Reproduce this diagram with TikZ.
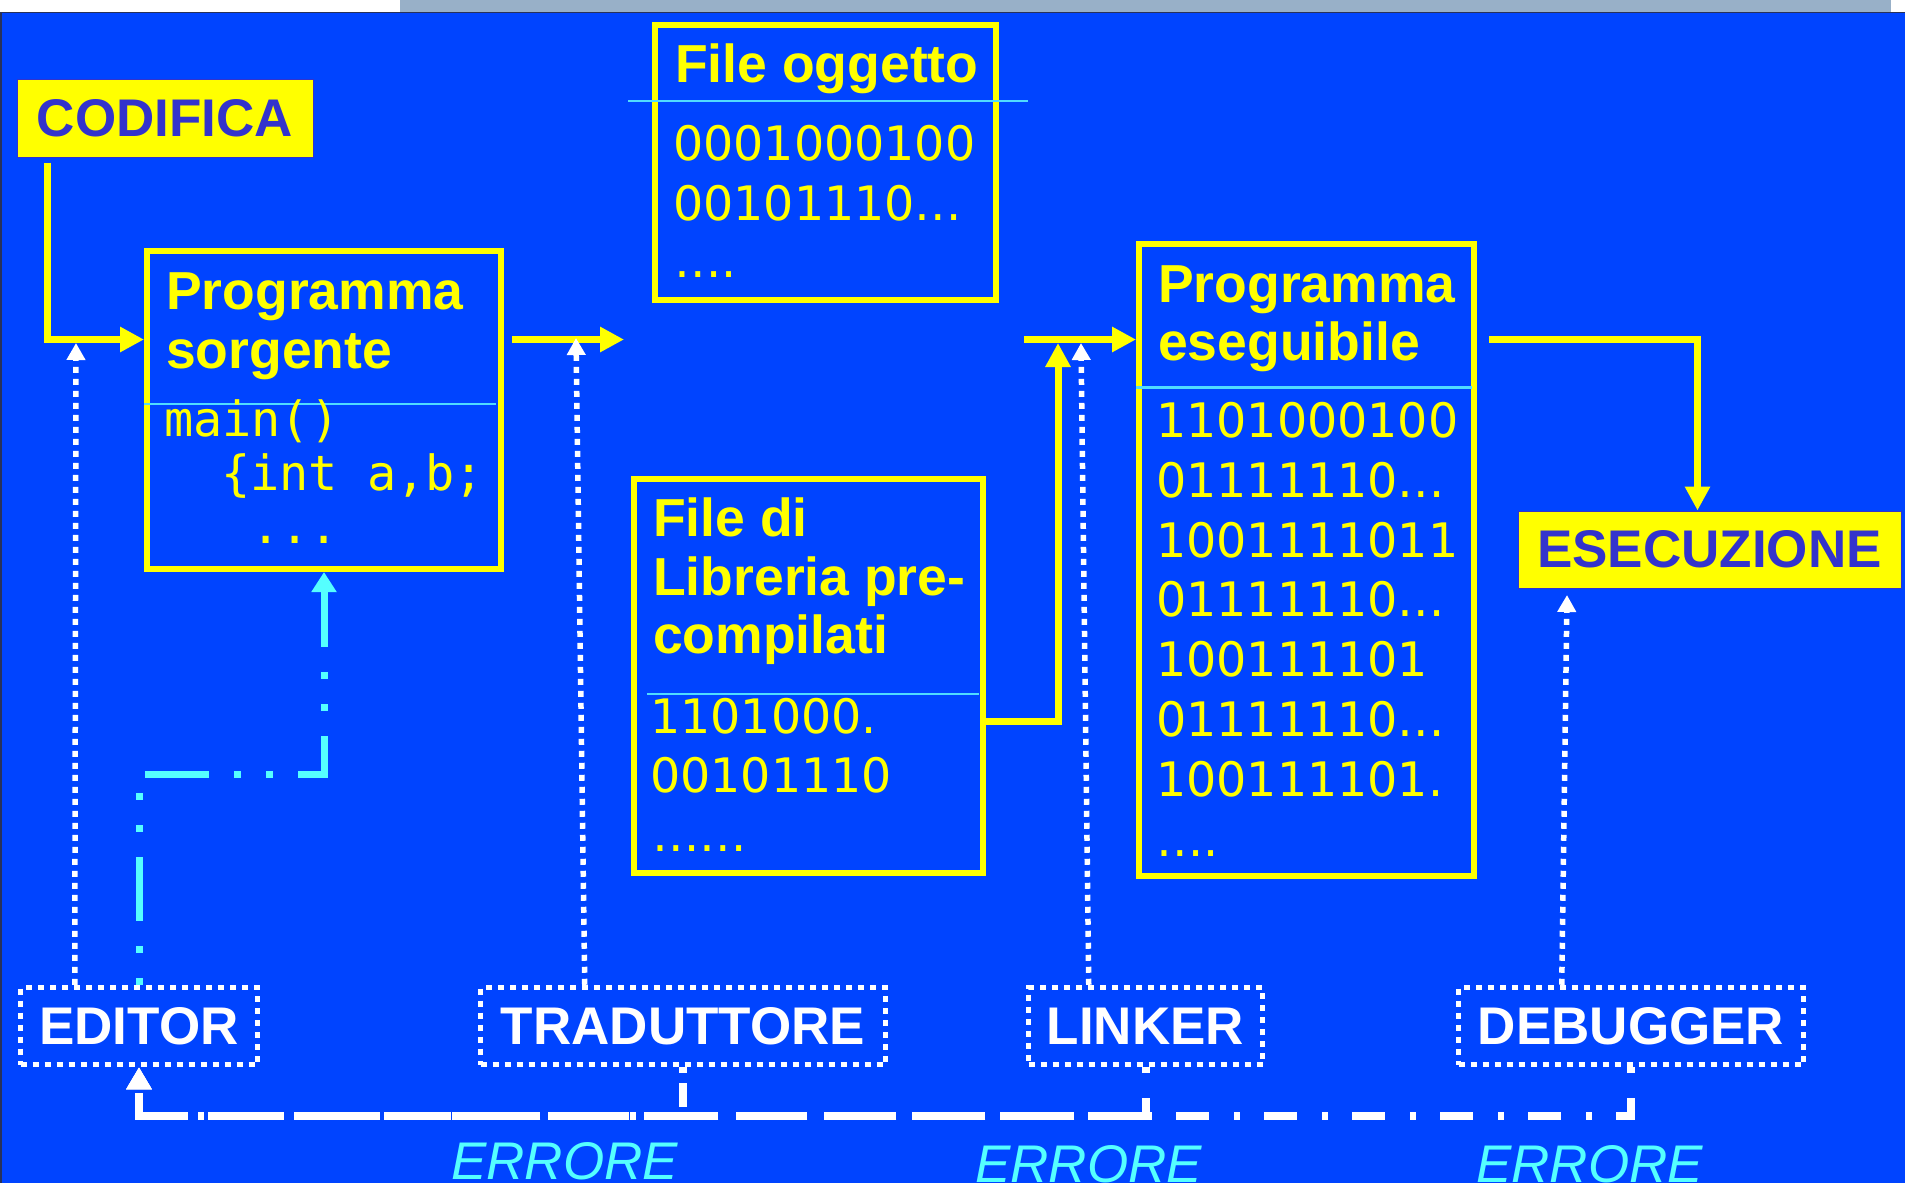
\documentclass[tikz,border=0pt]{standalone}
\usepackage{fontspec}
\setmainfont{Liberation Sans}
\newfontfamily\monof{DejaVu Sans Mono}
\newfontfamily\digf{DejaVu Sans}
\usetikzlibrary{arrows.meta,calc}
\definecolor{bg}{RGB}{0,68,255}
\definecolor{yel}{RGB}{255,255,0}
\definecolor{purp}{RGB}{51,51,204}
\definecolor{cy}{RGB}{85,255,255}
\definecolor{divc}{RGB}{80,220,255}
\definecolor{strip}{RGB}{152,176,200}
\definecolor{edge}{RGB}{40,50,90}
\begin{document}
\begin{tikzpicture}[x=1pt,y=-1pt,
  ybox/.style={draw=yel, line width=6pt, inner sep=0pt},
  fbox/.style={fill=yel, draw=purp, line width=1pt, text=purp, inner sep=0pt,
    font=\bfseries\fontsize{53}{60}\selectfont},
  dotbox/.style={draw=white, line width=5.5pt, dash pattern=on 6pt off 6pt,
    text=white, inner sep=0pt, minimum height=77pt,
    font=\bfseries\fontsize{53}{60}\selectfont},
  ttl/.style={text=yel, inner sep=0pt, anchor=base west,
    font=\bfseries\fontsize{53.5}{60}\selectfont},
  dig/.style={text=yel, inner sep=0pt, anchor=base west,
    font=\digf\fontsize{47.5}{56}\selectfont},
  mono/.style={text=yel, inner sep=0pt, anchor=base west,
    font=\monof\fontsize{48.5}{56}\selectfont},
  err/.style={text=cy, inner sep=0pt, anchor=base west,
    font=\itshape\fontsize{53}{60}\selectfont},
  divl/.style={draw=divc, line width=2.5pt},
  yarr/.style={draw=yel, line width=7pt, -{Triangle[length=24pt,width=24pt]}},
  dotarr/.style={draw=white, line width=5.5pt, dash pattern=on 6pt off 6pt,
    -{Triangle[length=17pt,width=18pt]}},
  cyarr/.style={draw=cy, line width=7pt,
    dash pattern=on 64pt off 25pt on 7pt off 25pt on 7pt off 25pt, dash phase=89pt,
    -{Triangle[length=20pt,width=24pt]}},
  errbase/.style={draw=white, line width=8pt, -{Triangle[length=22pt,width=24pt]}},
  errT/.style={errbase, dash pattern=on 6pt off 10pt on 24pt off 8pt},
  errL/.style={errbase, dash pattern=on 6pt off 25pt on 44pt off 14pt},
  errD/.style={errbase, dash pattern=on 6pt off 25pt on 33pt off 24pt}
]
\useasboundingbox (0,0) rectangle (1905,1183);
% background
\fill[white] (0,0) rectangle (1905,1183);
\fill[strip] (400,0) rectangle (1891,12);
\fill[bg] (0,12) rectangle (1905,1183);
\draw[edge, line width=1.5pt] (0,12.5) -- (1905,12.5);
\draw[edge, line width=1.5pt] (0.75,12) -- (0.75,1183);

% filled labels
\node[fbox, minimum width=296pt, minimum height=78pt] (codifica) at (165,118) {CODIFICA};
\node[fbox, minimum width=383pt, minimum height=77pt] (esec) at (1709.5,549.5) {ESECUZIONE};

% yellow boxes
\node[ybox, minimum width=354pt, minimum height=318pt] (sorg) at (324,410) {};
\node[ybox, minimum width=341pt, minimum height=275pt] (ogg) at (825.5,162.5) {};
\node[ybox, minimum width=349pt, minimum height=394pt] (lib) at (808.5,676) {};
\node[ybox, minimum width=335pt, minimum height=632pt] (ese) at (1306.5,560) {};

% dividers
\draw[divl] (sorg.west |- 0,404) -- (496,404);
\draw[divl] (628,101) -- (1028,101);
\draw[divl] (647,694) -- (979,694);
\draw[divl] (ese.west |- 0,387.5) -- (1472,387.5);

% texts: sorgente
\node[ttl] (s1) at (166,309) {Programma};
\node[ttl] (s2) at (166,368) {sorgente};
\node[mono] (s3) at (164,436) {main()};
\node[mono] (s4) at (221,490) {\{int a,b;};
\node[mono] (s5) at (251,543) {...};
% oggetto
\node[ttl] (o1) at (675,82) {File oggetto};
\node[dig] (o2) at (673,160) {0001000100};
\node[dig] (o3) at (673,220) {00101110…};
\node[dig] (o4) at (674,277) {….};
% libreria
\node[ttl] (l1) at (653,536) {File di};
\node[ttl] (l2) at (653,595) {Libreria pre-};
\node[ttl] (l3) at (653,653) {compilati};
\node[dig] (l4) at (650,733) {1101000.};
\node[dig] (l5) at (650,792) {00101110};
\node[dig] (l6) at (652,851) {……};
% eseguibile
\node[ttl] (e1) at (1158,302) {Programma};
\node[ttl] (e2) at (1158,360) {eseguibile};
\foreach \t [count=\i] in {1101000100,01111110…,1001111011,01111110…,100111101,01111110…,100111101.,….}
  \node[dig] (d\i) at (1156,377.7+59.8*\i) {\t};

% tool boxes
\node[dotbox, minimum width=237pt] (editor) at (139,1026) {EDITOR};
\node[dotbox, minimum width=405pt] (trad) at (683,1026) {TRADUTTORE};
\node[dotbox, minimum width=234pt] (linker) at (1145.5,1026) {LINKER};
\node[dotbox, minimum width=345pt] (debug) at (1631,1026) {DEBUGGER};

% error labels
\node[err] (err1) at (451,1179) {ERRORE};
\node[err] (err2) at (975,1182) {ERRORE};
\node[err] (err3) at (1476,1182) {ERRORE};

% helper coordinates
\coordinate (mainrow) at (0,339.5);
\coordinate (gapL) at (624,339.5);
\coordinate (gapR) at (1024,339.5);
\coordinate (libup) at (1058,343);
\coordinate (cyrow) at (0,774);
\coordinate (errrow) at (0,1116);
\coordinate (tipE) at (76,343);
\coordinate (tipT) at (576,338);
\coordinate (tipL) at (1081,343);
\coordinate (tipD) at (1567,595);

% yellow flow
\draw[yarr] ($(codifica.south west)+(31,5)$) |- (sorg.west |- mainrow);
\draw[yarr] ($(sorg.east |- mainrow)+(8,0)$) -- (gapL);
\draw[yarr] (gapR) -- (ese.west |- mainrow);
\draw[yarr] (lib.east |- 0,721) -| (libup);
\draw[yarr] ($(ese.east |- mainrow)+(12,0)$) -| ($(esec.north)+(-12,0)$);

% cyan feedback editor -> sorgente
\draw[cyarr] (editor.north) -- (editor.north |- cyrow) -- (sorg.south |- cyrow) -- (sorg.south);

% white dotted tool arrows
\draw[dotarr] ($(editor.north west)+(57,0)$) -- (tipE);
\draw[dotarr] ($(trad.north west)+(107,0)$) -- (tipT);
\draw[dotarr] ($(linker.north west)+(63,0)$) -- (tipL);
\draw[dotarr] ($(debug.north west)+(106,0)$) -- (tipD);

% error returns
\draw[errD] (debug.south) -- (debug.south |- errrow) -- (editor.south |- errrow) -- (editor.south);
\draw[errL] (linker.south) -- (linker.south |- errrow) -- (editor.south |- errrow) -- (editor.south);
\draw[errT] (trad.south) -- (trad.south |- errrow) -- (editor.south |- errrow) -- (editor.south);
\end{tikzpicture}
\end{document}
